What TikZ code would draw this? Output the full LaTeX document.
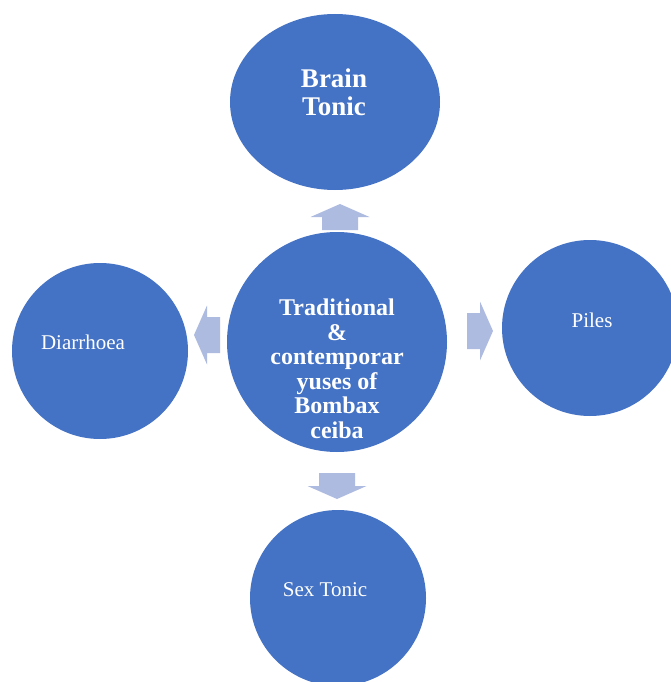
\documentclass[tikz,border=0pt]{standalone}
\usepackage{fontspec}
\setmainfont{Liberation Serif}
\usetikzlibrary{shapes.geometric}
\definecolor{bubblefill}{HTML}{4472C4}
\definecolor{arrowfill}{HTML}{AEBBE0}

\begin{document}
\begin{tikzpicture}[x=1pt,y=-1pt,
	bubble/.style={circle,fill=bubblefill,draw=none,inner sep=0pt,minimum size=176pt},
	txt/.style={text=white,align=center,font=\fontsize{21}{25}\selectfont},
	boldtxt/.style={text=white,align=center,font=\bfseries\fontsize{24}{24.5}\selectfont}]
	\clip (0,0) rectangle (671,682);
	% circles
	\node(core) [bubble, minimum size=220pt] at (337,342) {};
	\node(brain) [ellipse, fill=bubblefill, inner sep=0pt, minimum width=210pt, minimum height=176pt] at (335,102) {};
	\node(piles) [bubble] at (590,328) {};
	\node(diar) [bubble] at (100,351) {};
	\node(sex) [bubble] at (338,598) {};
	% block arrows
	\foreach \pos/\ang in {{(340,230)}/0, {(220,335)}/90, {(467,331)}/-90, {(337,473)}/180}
		\fill[arrowfill, shift={\pos}, rotate=\ang] (-18,0) -- (-18,-13) -- (-29.5,-13) -- (0,-26) -- (29.5,-13) -- (18,-13) -- (18,0) -- cycle;
	% texts
	\node(corelbl) [boldtxt] at (337,369) {Traditional\\ \&\\ contemporar\\ yuses of\\ Bombax\\ ceiba};
	\node(brainlbl) [boldtxt, font=\bfseries\fontsize{27}{28}\selectfont] at (334,92) {Brain\\ Tonic};
	\node(pileslbl) [txt, anchor=base] at (592,327) {Piles};
	\node(diarlbl) [txt, anchor=base] at (83,349) {Diarrhoea};
	\node(sexlbl) [txt, anchor=base] at (325,596) {Sex Tonic};
\end{tikzpicture}
\end{document}
